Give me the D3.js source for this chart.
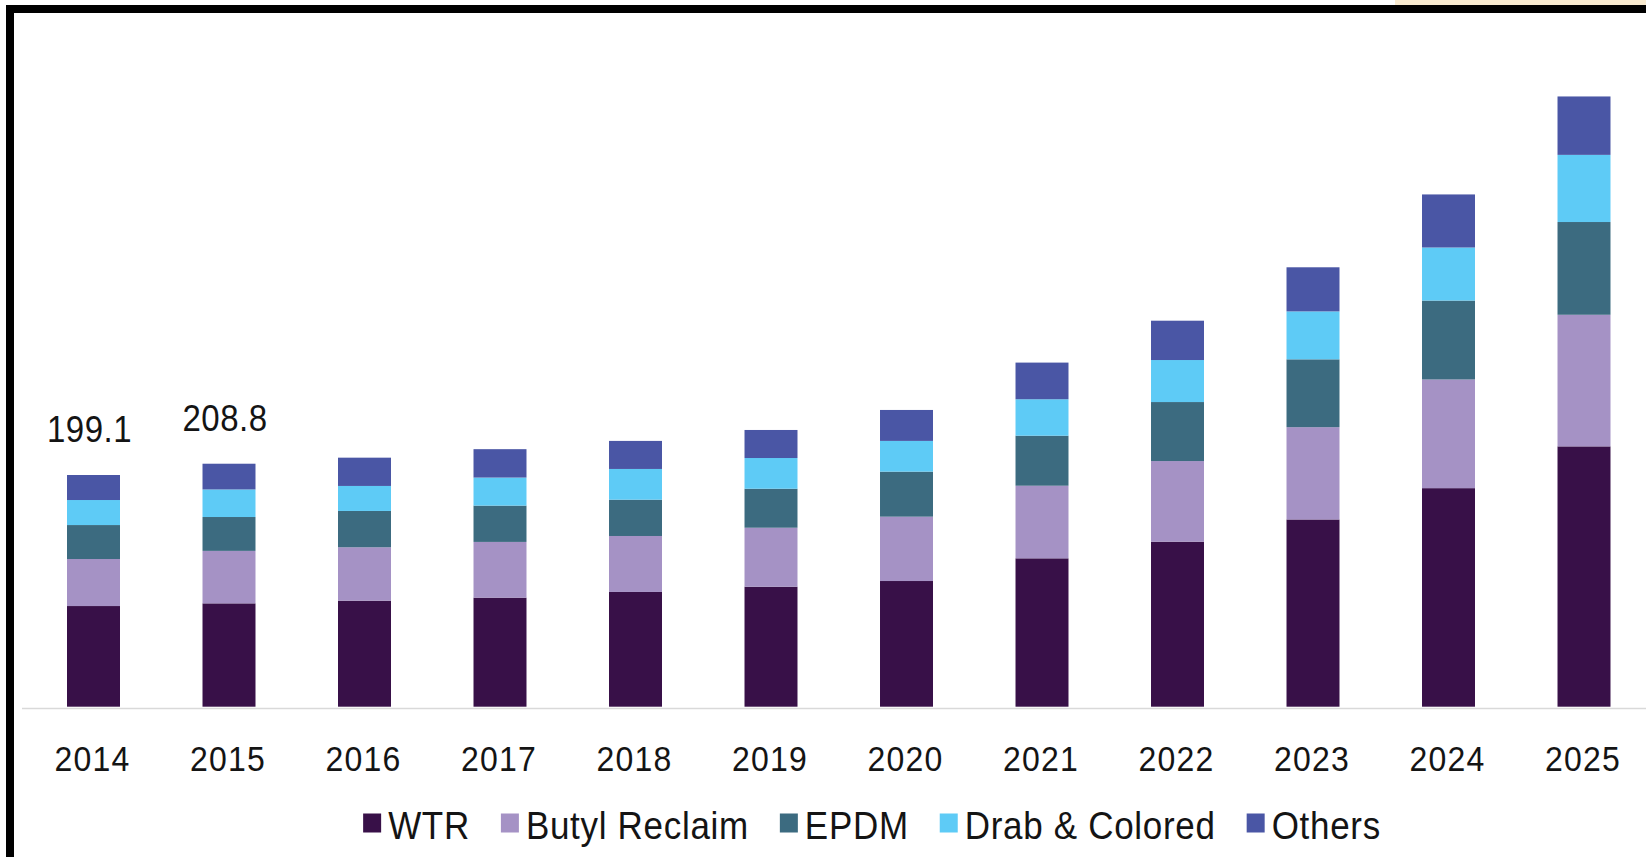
<!DOCTYPE html>
<html>
<head>
<meta charset="utf-8">
<script src="https://cdn.jsdelivr.net/npm/d3@7/dist/d3.min.js"></script>
<style>
  html, body { margin: 0; padding: 0; background: #ffffff; }
  svg { display: block; }
  text { font-family: "Liberation Sans", Arial, sans-serif; fill: #141414; }
</style>
</head>
<body>
<svg id="chart" width="1646" height="857"></svg>
<script>
// ---- data ----
const years = ["2014","2015","2016","2017","2018","2019","2020","2021","2022","2023","2024","2025"];
const seriesNames = ["WTR", "Butyl Reclaim", "EPDM", "Drab & Colored", "Others"];
const wtr    = [86.5, 88.8, 91.1, 93.7, 98.6, 103.1, 108.0, 127.5, 141.8, 160.9, 187.8, 223.7];
const butyl  = [40.4, 45.1, 45.9, 47.9, 48.1,  50.7,  55.3,  62.4,  69.3,  79.3,  93.4, 113.1];
const epdm   = [29.2, 29.1, 31.2, 31.2, 31.2,  33.5,  38.7,  43.0,  50.7,  58.3,  67.8,  79.7];
const drab   = [21.5, 23.7, 21.5, 24.1, 26.4,  26.4,  26.4,  31.3,  36.1,  41.2,  45.6,  57.7];
const others = [21.5, 22.1, 24.3, 24.4, 24.1,  24.1,  26.6,  31.5,  33.8,  37.9,  45.6,  50.2];
const labelYears  = ["2014", "2015"];
const labelValues = ["199.1", "208.8"];
const colors = ["#381048", "#a592c5", "#3c6b80", "#5ecbf6", "#4a56a5"];

// ---- build table ----
const seriesArrays = [wtr, butyl, epdm, drab, others];
const table = years.map((y, i) => {
  const row = { year: y };
  seriesNames.forEach((s, j) => row[s] = seriesArrays[j][i]);
  return row;
});
const stacked = d3.stack().keys(seriesNames)(table);

const svg = d3.select("#chart");
const W = 1646, H = 857;

// frame decorations
svg.append("rect").attr("x", 1395).attr("y", 0).attr("width", W - 1395).attr("height", 5).attr("fill", "#f9ebd0");
svg.append("rect").attr("x", 6).attr("y", 5).attr("width", W - 6).attr("height", 8).attr("fill", "#000");
svg.append("rect").attr("x", 6).attr("y", 5).attr("width", 8).attr("height", H - 5).attr("fill", "#000");

// ---- scales ----
const baseY = 706.7;
const x = d3.scaleBand().domain(years).range([25.75, 1651.75]).paddingInner(0.609).paddingOuter(0.3045);
const y = d3.scaleLinear().domain([0, 600]).range([baseY, baseY - 600 * 1.1637]);
const color = d3.scaleOrdinal().domain(seriesNames).range(colors);

// axis baseline
svg.append("line").attr("x1", 22).attr("x2", W).attr("y1", 708.5).attr("y2", 708.5)
  .attr("stroke", "#d9d9d9").attr("stroke-width", 1.5);

// bars
svg.append("g").selectAll("g").data(stacked).join("g")
  .attr("fill", d => color(d.key))
  .selectAll("rect").data(d => d).join("rect")
  .attr("x", d => x(d.data.year))
  .attr("width", x.bandwidth())
  .attr("y", d => y(d[1]))
  .attr("height", d => y(d[0]) - y(d[1]));

// x axis
const axis = svg.append("g").attr("transform", "translate(0,708)")
  .call(d3.axisBottom(x).tickSize(0));
axis.select(".domain").remove();
axis.selectAll("text")
  .attr("y", 0).attr("dy", 0)
  .attr("transform", "translate(-1,63) scale(1,1.08)")
  .style("font-family", "'Liberation Sans', Arial, sans-serif")
  .style("font-size", "32px")
  .style("letter-spacing", "1.2px")
  .style("fill", "#141414");

// data labels (totals)
const totals = {};
stacked[stacked.length - 1].forEach(d => totals[d.data.year] = d[1]);
svg.append("g").selectAll("text").data(labelYears).join("text")
  .attr("text-anchor", "middle")
  .attr("transform", (d) => `translate(${x(d) + x.bandwidth() / 2 - 4},${y(totals[d]) - 33}) scale(1,1.13)`)
  .style("font-size", "33px")
  .style("letter-spacing", "0.5px")
  .text((d, i) => labelValues[i]);

// legend
const legend = svg.append("g");
const items = legend.selectAll("g").data(seriesNames).join("g");
items.append("rect").attr("width", 18).attr("height", 19).attr("y", 813.5)
  .attr("fill", d => color(d));
items.append("text")
  .attr("transform", "translate(25,838.5) scale(1,1.13)")
  .style("font-size", "35px")
  .style("letter-spacing", "0.7px")
  .text(d => d);
let cx = 0;
const widths = [];
items.each(function() {
  const t = d3.select(this).select("text").node().getComputedTextLength();
  widths.push(t);
});
const positions = [];
widths.forEach((w, i) => { positions.push(cx); cx += 25 + w + 31; });
const totalW = cx - 31;
const start = 872 - totalW / 2;
items.attr("transform", (d, i) => `translate(${start + positions[i]},0)`);
</script>
</body>
</html>
